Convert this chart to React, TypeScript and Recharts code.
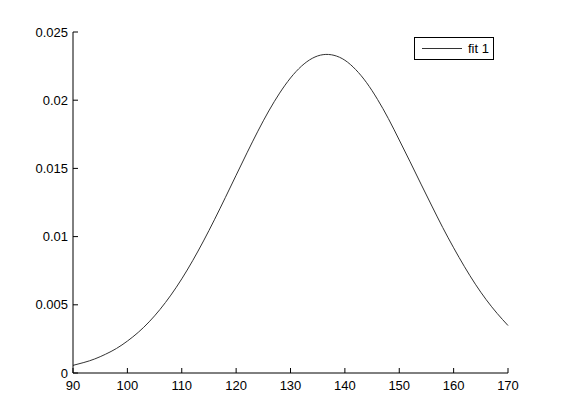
import React from 'react';
import { LineChart, Line, XAxis, YAxis, Legend } from 'recharts';

const xValues = [
  90, 92, 94, 96, 98, 100, 102, 104, 106, 108, 110, 112, 114, 116, 118, 120, 122, 124, 126, 128, 130,
  132, 134, 136, 138, 140, 142, 144, 146, 148, 150, 152, 154, 156, 158, 160, 162, 164, 166, 168, 170,
];
const fitValues = [
  0.00056, 0.00077, 0.00103, 0.00138, 0.0018, 0.00234, 0.00298, 0.00375, 0.00466, 0.00571, 0.0069,
  0.00823, 0.00968, 0.01123, 0.01285, 0.0145, 0.01614, 0.01773, 0.01921, 0.02052, 0.02163, 0.02249,
  0.02307, 0.02334, 0.02329, 0.02293, 0.02224, 0.02128, 0.02006, 0.01865, 0.01708, 0.01548, 0.01385,
  0.01224, 0.01066, 0.00918, 0.00779, 0.00651, 0.00537, 0.00437, 0.00348,
];
const xTicks = [90, 100, 110, 120, 130, 140, 150, 160, 170];
const yTicks = [0, 0.005, 0.01, 0.015, 0.02, 0.025];
const seriesName = 'fit 1';

const data = xValues.map((x, i) => ({ x, fit: fitValues[i] }));

const FONT = '"Liberation Sans", Arial, sans-serif';

const XTick = ({ x, y, payload }: any) => (
  <g>
    <line x1={x} y1={y} x2={x} y2={y - 5} stroke="#000" />
    <text x={x} y={y + 17} textAnchor="middle" fontSize={13} fontFamily={FONT} fill="#000">
      {payload.value}
    </text>
  </g>
);

const YTick = ({ x, y, payload }: any) => (
  <g>
    <line x1={x} y1={y} x2={x + 5} y2={y} stroke="#000" />
    <text x={x - 5} y={y + 4.5} textAnchor="end" fontSize={13} fontFamily={FONT} fill="#000">
      {payload.value}
    </text>
  </g>
);

const LegendBox = () => (
  <div
    style={{
      width: 78,
      height: 21,
      border: '1px solid #000',
      background: '#fff',
      position: 'relative',
      fontFamily: FONT,
      fontSize: 13,
    }}
  >
    <svg width={78} height={21} style={{ position: 'absolute', left: 0, top: 0 }}>
      <line x1={7} y1={10.5} x2={47} y2={10.5} stroke="#333" strokeWidth={1} />
      <text x={53} y={15} fontSize={13} fontFamily={FONT} fill="#000">
        {seriesName}
      </text>
    </svg>
  </div>
);

export default function App() {
  return (
    <div style={{ position: 'absolute', left: 0, top: 0, background: '#fff' }}>
      <LineChart width={561} height={420} data={data} margin={{ top: 32, right: 53, left: 0, bottom: 0 }}>
        <XAxis
          dataKey="x"
          type="number"
          domain={[90, 170]}
          ticks={xTicks}
          height={47}
          stroke="#000"
          tickLine={false}
          tickSize={0}
          tickMargin={0}
          tick={<XTick />}
          interval={0}
        />
        <YAxis
          type="number"
          domain={[0, 0.025]}
          ticks={yTicks}
          width={73}
          stroke="#000"
          tickLine={false}
          tickSize={0}
          tickMargin={0}
          tick={<YTick />}
          interval={0}
        />
        <Legend
          layout="horizontal"
          verticalAlign="middle"
          align="center"
          content={<LegendBox />}
          wrapperStyle={{ position: 'absolute', top: 37, left: 414, width: 80 }}
        />
        <Line
          type="natural"
          dataKey="fit"
          name={seriesName}
          stroke="#333"
          strokeWidth={1}
          dot={false}
          isAnimationActive={false}
        />
      </LineChart>
    </div>
  );
}
